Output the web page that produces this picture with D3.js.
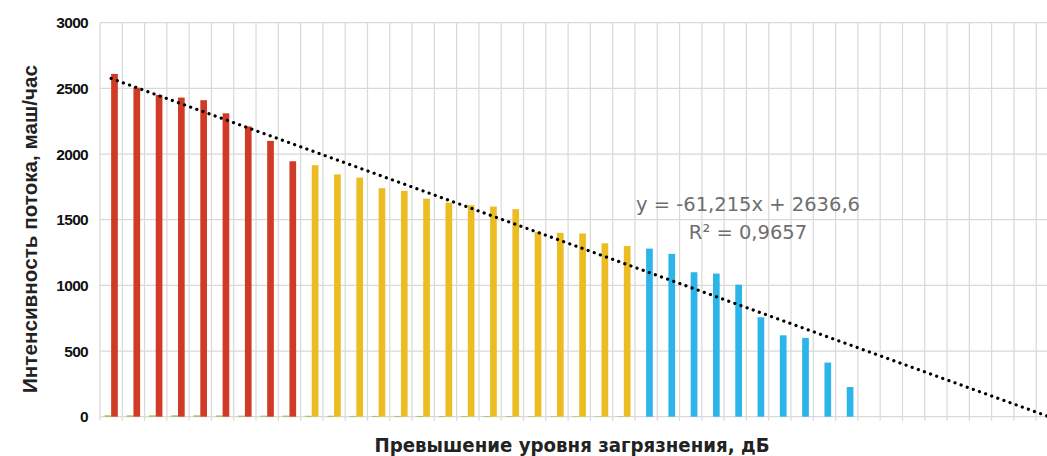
<!DOCTYPE html>
<html><head><meta charset="utf-8">
<script src="https://cdn.jsdelivr.net/npm/d3@7"></script>
<style>body{margin:0;background:#fff}svg{display:block}</style>
</head><body><svg id="c" width="1047" height="456"></svg>
<script>
// ---- data ----
const categories = [1,2,3,4,5,6,7,8,9,10,11,12,13,14,15,16,17,18,19,20,21,22,23,24,25,26,27,28,29,30,31,32,33,34,35,36,37,38,39,40,41,42,43];
const flowValues = [2610,2505,2450,2430,2410,2310,2210,2100,1945,1915,1845,1820,1740,1720,1660,1630,1610,1600,1580,1405,1400,1395,1320,1300,1280,1240,1100,1090,1005,757,620,600,412,226];
const flowZones = ["red","red","red","red","red","red","red","red","red",
  "yellow","yellow","yellow","yellow","yellow","yellow","yellow","yellow","yellow","yellow","yellow","yellow","yellow","yellow","yellow",
  "blue","blue","blue","blue","blue","blue","blue","blue","blue","blue"];
const secondValues = [10,10,10,10,10,9,8,8,8,7,7,6,6,6,6,5,5,5,5,4,4,3,3,3,0,0,0,0,0,0,0,0,0,0];
const yTicks = [0,500,1000,1500,2000,2500,3000];
const trendSlope = -61.215;
const trendIntercept = 2636.6;
const equationLines = ["y = -61,215x + 2636,6", "R² = 0,9657"];
const yTitle = "Интенсивность потока, маш/час";
const xTitle = "Превышение уровня загрязнения, дБ";

// ---- styles ----
const zoneColor = {red:"#CF3B26", yellow:"#EBBD23", blue:"#2BB5E9"};
const secondColor = "#8DC14A";
const gridColor = "#D9D9D9";

const svg = d3.select("#c");
const mLeft = 100, mRight = 1058.5, mTop = 22.7, mBottom = 416.7;

const x0 = d3.scaleBand().domain(categories).range([mLeft, mRight]).paddingInner(0.4).paddingOuter(0.2);
const x1 = d3.scaleBand().domain(["second","flow"]).range([0, x0.bandwidth()]);
const y = d3.scaleLinear().domain([0, 3000]).range([mBottom, mTop]);
const step = x0.step();
const edge = c => x0(c) - step * x0.paddingInner() / 2;

// horizontal gridlines
svg.append("g").selectAll("line").data(yTicks).join("line")
  .attr("x1", mLeft).attr("x2", mRight)
  .attr("y1", d => y(d)).attr("y2", d => y(d))
  .attr("stroke", gridColor).attr("stroke-width", 1.2);

// vertical gridlines at category boundaries
const bounds = categories.map(edge).concat([mRight]);
svg.append("g").selectAll("line").data(bounds).join("line")
  .attr("x1", d => d).attr("x2", d => d)
  .attr("y1", mTop).attr("y2", mBottom + 4)
  .attr("stroke", gridColor).attr("stroke-width", 1.2);

// y axis labels
const yAxis = svg.append("g").attr("transform", `translate(${mLeft},0)`)
  .call(d3.axisLeft(y).tickValues(yTicks).tickSize(0).tickPadding(12).tickFormat(d3.format("d")));
yAxis.select(".domain").remove();
yAxis.selectAll("text").attr("font-family", "Liberation Sans, Arial, sans-serif")
  .attr("font-weight", "bold").attr("font-size", 15.5).attr("fill", "#111")
  .attr("letter-spacing", -0.7);

// bars
const bars = svg.append("g");
bars.selectAll("rect.s").data(secondValues).join("rect").attr("class", "s")
  .attr("x", (d, i) => x0(categories[i]) + x1("second"))
  .attr("width", x1.bandwidth())
  .attr("y", d => y(d)).attr("height", d => mBottom - y(d))
  .attr("fill", secondColor);
bars.selectAll("rect.f").data(flowValues).join("rect").attr("class", "f")
  .attr("x", (d, i) => x0(categories[i]) + x1("flow"))
  .attr("width", x1.bandwidth())
  .attr("y", d => y(d)).attr("height", d => mBottom - y(d))
  .attr("fill", (d, i) => zoneColor[flowZones[i]]);

// trendline
const trendCats = [categories[0], categories[categories.length - 1]];
svg.append("path")
  .attr("d", d3.line()
    .x(c => x0(c) + x0.bandwidth() / 2)
    .y(c => y(trendIntercept + trendSlope * c))(trendCats))
  .attr("fill", "none").attr("stroke", "#000").attr("stroke-width", 3.2)
  .attr("stroke-linecap", "round").attr("stroke-dasharray", "0.1 6.4");

// equation
svg.append("g").selectAll("text").data(equationLines).join("text")
  .attr("x", 748).attr("y", (d, i) => 211 + i * 28)
  .attr("text-anchor", "middle")
  .attr("font-family", "DejaVu Sans, sans-serif").attr("font-size", 19.5)
  .attr("fill", "#6e6e6e").text(d => d);

// axis titles
svg.append("text").attr("x", 572).attr("y", 452).attr("text-anchor", "middle")
  .attr("font-family", "DejaVu Sans, sans-serif").attr("font-weight", "bold")
  .attr("font-size", 20).attr("textLength", 395).attr("lengthAdjust", "spacingAndGlyphs")
  .attr("fill", "#222").text(xTitle);
svg.append("text").attr("transform", "translate(36.5,229) rotate(-90)")
  .attr("text-anchor", "middle")
  .attr("font-family", "Liberation Sans, Arial, sans-serif").attr("font-weight", "bold")
  .attr("font-size", 20).attr("textLength", 328).attr("lengthAdjust", "spacingAndGlyphs")
  .attr("fill", "#222").text(yTitle);
</script></body></html>
